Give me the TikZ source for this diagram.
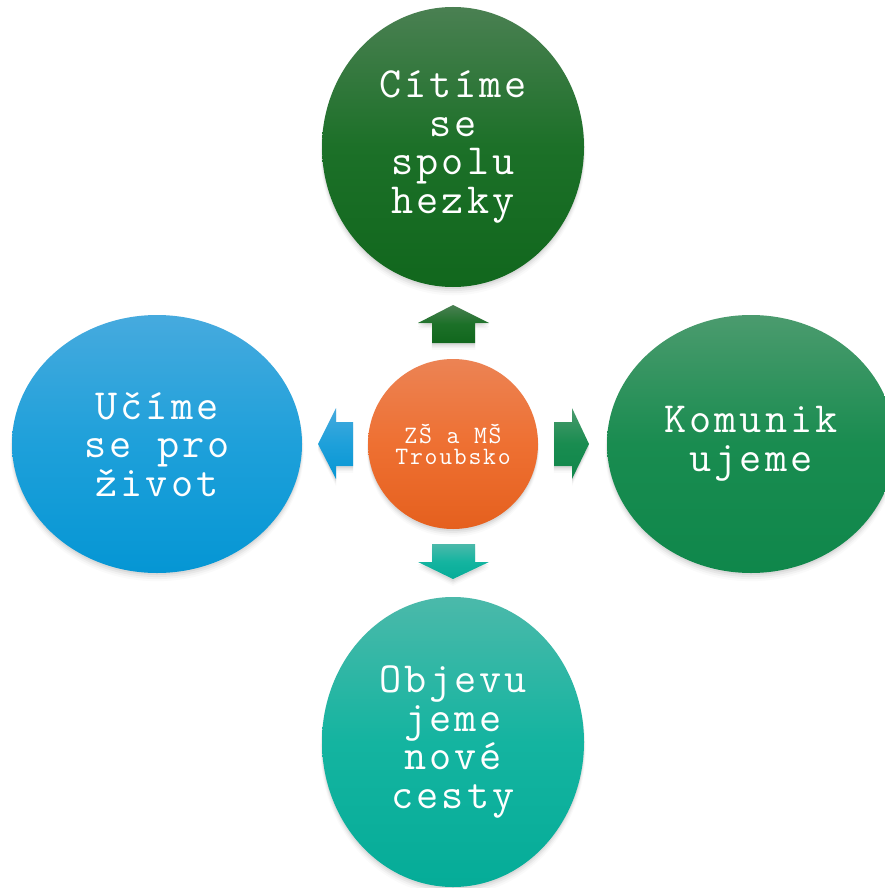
\documentclass[tikz,border=0pt]{standalone}
\usepackage{fontspec}
\newfontfamily\thinmono{Latin Modern Mono}[LetterSpace=7]
\newfontfamily\thinmonosmall{Latin Modern Mono}[LetterSpace=7]
\usetikzlibrary{shapes.geometric,shadows}
\definecolor{gT1}{RGB}{74,128,82}\definecolor{gT2}{RGB}{28,112,40}\definecolor{gT3}{RGB}{17,103,29}
\definecolor{gR1}{RGB}{75,155,110}\definecolor{gR2}{RGB}{25,140,80}\definecolor{gR3}{RGB}{15,135,75}
\definecolor{bL1}{RGB}{70,170,222}\definecolor{bL2}{RGB}{30,160,218}\definecolor{bL3}{RGB}{5,150,212}
\definecolor{tB1}{RGB}{75,185,170}\definecolor{tB2}{RGB}{20,180,160}\definecolor{tB3}{RGB}{5,172,152}
\definecolor{oC1}{RGB}{236,131,84}\definecolor{oC2}{RGB}{238,112,50}\definecolor{oC3}{RGB}{229,96,30}
\tikzset{
  x=1pt,y=-1pt,
  softshadow/.style={
    drop shadow={opacity=.12,shadow xshift=0pt,shadow yshift=-2pt,shadow scale=1.0},
    drop shadow={opacity=.09,shadow xshift=0pt,shadow yshift=-3.5pt,shadow scale=1.004},
    drop shadow={opacity=.06,shadow xshift=0pt,shadow yshift=-5pt,shadow scale=1.008},
    drop shadow={opacity=.04,shadow xshift=0pt,shadow yshift=-6.5pt,shadow scale=1.012}},
  blob/.style={ellipse, inner sep=0pt, text=white, align=center,
    font=\thinmono\fontsize{43}{38.5}\selectfont, softshadow},
  hub/.style={circle, inner sep=0pt, minimum size=170pt, text=white, align=center,
    font=\thinmonosmall\fontsize{25}{21}\selectfont, softshadow,
    top color=oC1, bottom color=oC3, middle color=oC2},
  grad/.style n args={3}{top color=#1, bottom color=#3, middle color=#2},
  blockarrow/.style={draw=none, softshadow}
}
\begin{document}
\begin{tikzpicture}
\path[use as bounding box,fill=white] (0,0) rectangle (885,888);
\clip (0,0) rectangle (885,888);
% outer nodes
\node[blob, minimum width=262pt, minimum height=280pt, grad={gT1}{gT2}{gT3}] (top) at (453,147) {Cítíme\\se\\spolu\\hezky};
\node[blob, minimum width=288pt, minimum height=258pt, grad={gR1}{gR2}{gR3}] (right) at (751,444) {Komunik\\ujeme};
\node[blob, minimum width=290pt, minimum height=258pt, grad={bL1}{bL2}{bL3}] (left) at (157,444) {Učíme\\se pro\\život};
\node[blob, minimum width=262pt, minimum height=290pt, grad={tB1}{tB2}{tB3}] (bottom) at (453,742) {Objevu\\jeme\\nové\\cesty};
% center
\node[hub] (hub) at (453,444) {ZŠ a MŠ\\Troubsko};
% block arrows
\path[blockarrow, grad={gT1}{gT2}{gT3}] (432,343) -- (432,323) -- (418,323) -- (453,305) -- (489,323) -- (475,323) -- (475,343) -- cycle;
\path[blockarrow, grad={tB1}{tB2}{tB3}] (432,544) -- (475,544) -- (475,562) -- (489,562) -- (453,579) -- (418,562) -- (432,562) -- cycle;
\path[blockarrow, grad={bL1}{bL2}{bL3}] (353,422) -- (336,422) -- (336,408) -- (318,444) -- (336,479) -- (336,466) -- (353,466) -- cycle;
\path[blockarrow, grad={gR1}{gR2}{gR3}] (554,422) -- (572,422) -- (572,408) -- (589,444) -- (572,479) -- (572,466) -- (554,466) -- cycle;
\end{tikzpicture}
\end{document}
